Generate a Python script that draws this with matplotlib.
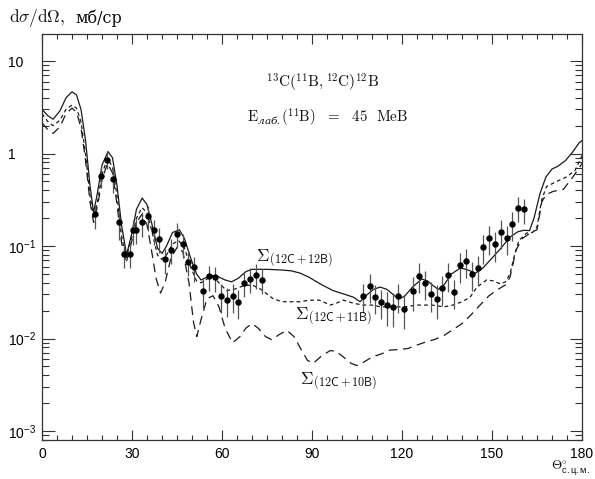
import matplotlib
matplotlib.use("Agg")
import matplotlib.pyplot as plt
import numpy as np
from matplotlib.ticker import FixedLocator, LogLocator, NullFormatter, FuncFormatter, MultipleLocator

plt.rcParams['mathtext.fontset'] = 'custom'
plt.rcParams['mathtext.rm'] = 'cmr10'
plt.rcParams['mathtext.it'] = 'DejaVu Serif:italic'
plt.rcParams['mathtext.bf'] = 'DejaVu Serif:bold'
plt.rcParams['mathtext.sf'] = 'Liberation Sans'
plt.rcParams['mathtext.fallback'] = 'cm'

# ---- Data ----
theta_12b = [0, 2, 3.7, 6, 8, 10, 11.5, 13, 14.5, 16, 17.2, 18.5, 20, 22, 23.5, 25, 26.5, 28.2,
             30, 31.5, 33.4, 35, 36.5, 38.5, 40, 41.5, 43.5, 45.8, 47.5, 49.5, 51.5, 53, 55,
             56.6, 58.5, 61, 63.2, 65.5, 68, 70, 75, 80, 83, 86, 89, 92.7, 97, 101, 103.8, 106,
             108.5, 110.5, 112.7, 115, 117.5, 119.3, 121, 123.5, 126.6, 128.5, 130.5, 132.1, 134,
             136.5, 139.5, 142, 144.5, 147, 150, 153, 156, 158.5, 160.5, 162.5, 164, 166, 168,
             170, 172, 174.5, 177, 179, 180]
sigma_12b = [3.0, 2.55, 2.35, 2.9, 4.0, 4.65, 4.3, 3.0, 1.4, 0.45, 0.23, 0.38, 0.75, 1.05, 0.9,
             0.45, 0.17, 0.08, 0.14, 0.25, 0.33, 0.28, 0.18, 0.095, 0.083, 0.1, 0.14, 0.15, 0.12,
             0.075, 0.05, 0.043, 0.046, 0.048, 0.047, 0.043, 0.041, 0.045, 0.053, 0.056, 0.056,
             0.055, 0.054, 0.051, 0.046, 0.039, 0.033, 0.030, 0.028, 0.025, 0.030, 0.034, 0.036,
             0.034, 0.029, 0.027, 0.029, 0.036, 0.044, 0.042, 0.037, 0.034, 0.038, 0.050, 0.058,
             0.055, 0.051, 0.058, 0.074, 0.095, 0.125, 0.142, 0.148, 0.147, 0.2, 0.37, 0.56, 0.68,
             0.73, 0.84, 1.05, 1.3, 1.38]

theta_11b = [0, 2, 3.7, 6, 8, 10, 11.5, 13, 14.5, 16, 17.2, 18.5, 20, 21.8, 23.5, 25, 26.5, 28,
             29.5, 31.5, 33.3, 35, 36.5, 38.5, 39.8, 41.5, 43.5, 45.5, 47.5, 49.5, 51.5, 53, 55,
             57, 59, 61.5, 64, 67, 70, 73, 77, 80, 83, 86, 89, 92.5, 96, 98, 100.4, 104, 107, 110,
             113, 117, 121, 125, 130, 134, 137, 140, 142.7, 145, 148.2, 150.5, 152.7, 154.5, 156,
             157.5, 159, 161.5, 163.5, 165, 166.6, 168.2, 171.6, 174.9, 177.7, 180]
sigma_11b = [2.7, 2.2, 2.0, 2.3, 3.0, 3.35, 3.1, 2.2, 1.0, 0.35, 0.2, 0.3, 0.6, 0.88, 0.72, 0.35,
             0.13, 0.075, 0.11, 0.2, 0.26, 0.23, 0.15, 0.08, 0.072, 0.08, 0.105, 0.115, 0.095,
             0.06, 0.042, 0.04, 0.044, 0.047, 0.04, 0.033, 0.034, 0.037, 0.038, 0.034, 0.027,
             0.025, 0.025, 0.025, 0.026, 0.026, 0.023, 0.024, 0.026, 0.024, 0.023, 0.023, 0.022,
             0.022, 0.022, 0.023, 0.023, 0.022, 0.023, 0.025, 0.028, 0.036, 0.043, 0.042, 0.039,
             0.041, 0.05, 0.08, 0.115, 0.138, 0.14, 0.16, 0.32, 0.44, 0.5, 0.56, 0.66, 0.95]

theta_10b = [0, 2, 3.7, 6, 8, 10, 11.5, 13, 14.5, 16, 17.2, 18.5, 20, 21.8, 23.5, 25, 26.5, 28,
             29.5, 31.5, 33.3, 35, 36.5, 38, 39.5, 41, 43, 45.3, 47, 49, 50.5, 51.6, 53, 55, 57,
             59, 61, 63.5, 66, 68, 70, 72, 74.5, 76.6, 79, 81.6, 84, 86.5, 88.5, 90.4, 93, 96,
             98, 100.5, 103, 105, 107, 110, 113, 116, 119, 122, 125, 128, 131, 134, 137, 140,
             143, 146, 149, 152, 154.5, 156, 158, 160, 163, 165, 166.6, 168, 170.4, 173.8, 177,
             180]
sigma_10b = [2.15, 1.8, 1.65, 1.95, 2.7, 3.1, 2.8, 1.9, 0.85, 0.3, 0.18, 0.27, 0.52, 0.78, 0.62,
             0.28, 0.11, 0.065, 0.1, 0.18, 0.22, 0.17, 0.09, 0.045, 0.031, 0.04, 0.075, 0.1,
             0.085, 0.04, 0.015, 0.0105, 0.016, 0.027, 0.029, 0.022, 0.013, 0.009, 0.0105, 0.013,
             0.0145, 0.013, 0.0105, 0.0097, 0.011, 0.0123, 0.0105, 0.0075, 0.0058, 0.0054, 0.0064,
             0.0074, 0.0073, 0.0063, 0.0054, 0.0051, 0.0055, 0.0063, 0.0068, 0.0075, 0.0076,
             0.0078, 0.0085, 0.0092, 0.0098, 0.0108, 0.0125, 0.0145, 0.018, 0.023, 0.029, 0.034,
             0.038, 0.046, 0.09, 0.12, 0.14, 0.15, 0.3, 0.36, 0.39, 0.41, 0.56, 0.78]

theta_exp = [17.7, 19.6, 21.6, 23.6, 25.6, 27.4, 29.3, 30.3, 31.3, 33.4, 35.4, 37.3, 39.1, 41.1,
             43.0, 45.1, 46.9, 48.8, 50.8, 53.8, 55.8, 57.7, 59.7, 61.6, 63.6, 65.4, 67.4, 69.3,
             71.3, 73.2, 107.1, 109.3, 111.0, 113.0, 114.9, 116.9, 118.8, 120.8, 123.6, 125.6,
             127.7, 129.6, 131.6, 133.4, 135.4, 137.4, 139.3, 141.3, 143.2, 145.2, 147.1, 149.1,
             151.0, 152.9, 154.9, 156.8, 158.8, 160.7]
sigma_exp = [0.22, 0.57, 0.86, 0.53, 0.18, 0.083, 0.082, 0.148, 0.15, 0.18, 0.21, 0.148, 0.12,
             0.072, 0.091, 0.135, 0.105, 0.068, 0.059, 0.033, 0.047, 0.046, 0.029, 0.026, 0.029,
             0.025, 0.040, 0.044, 0.049, 0.043, 0.029, 0.037, 0.028, 0.025, 0.023, 0.022, 0.029,
             0.021, 0.033, 0.048, 0.040, 0.030, 0.027, 0.035, 0.049, 0.032, 0.062, 0.069, 0.050,
             0.058, 0.098, 0.123, 0.104, 0.143, 0.123, 0.173, 0.26, 0.25]
rel_err = [0.3, 0.25, 0.2, 0.3, 0.35, 0.3, 0.3, 0.3, 0.3, 0.3, 0.3, 0.3, 0.3, 0.3, 0.3, 0.3, 0.3,
           0.3, 0.3, 0.35, 0.3, 0.3, 0.35, 0.35, 0.35, 0.35, 0.3, 0.3, 0.3, 0.3, 0.35, 0.35,
           0.35, 0.35, 0.4, 0.4, 0.35, 0.4, 0.4, 0.35, 0.35, 0.35, 0.4, 0.35, 0.35, 0.35, 0.35,
           0.35, 0.35, 0.35, 0.35, 0.35, 0.35, 0.35, 0.35, 0.35, 0.3, 0.3]

x_major = [0, 30, 60, 90, 120, 150, 180]
y_major = [1e-3, 1e-2, 1e-1, 1, 10]

# ---- Figure ----
W, H = 595, 479
fig = plt.figure(figsize=(W / 100, H / 100), dpi=100)
ax = fig.add_axes([42 / W, 39 / H, 540 / W, 406 / H])

lc = '#1a1a1a'
ax.plot(theta_12b, sigma_12b, '-', color=lc, lw=0.9)
ax.plot(theta_11b, sigma_11b, color=lc, lw=0.9, dashes=(3, 2.5))
ax.plot(theta_10b, sigma_10b, color=lc, lw=0.9, dashes=(7, 4.5))

yexp = np.array(sigma_exp)
yerr = yexp * np.array(rel_err)
ax.errorbar(theta_exp, sigma_exp, yerr=yerr, fmt='o', ms=3.6, color='black',
            ecolor='#555555', elinewidth=0.9, capsize=0)

ax.set_yscale('log')
ax.set_xlim(0, 180)
ax.set_ylim(8e-4, 19.6)

ax.xaxis.set_major_locator(FixedLocator(x_major))
ax.xaxis.set_minor_locator(MultipleLocator(5))
ax.yaxis.set_major_locator(FixedLocator(y_major))
ax.yaxis.set_minor_locator(LogLocator(base=10, subs=np.arange(2, 10), numticks=20))
ax.yaxis.set_minor_formatter(NullFormatter())


def yfmt(v, pos):
    e = int(round(np.log10(v)))
    if e >= 0:
        return str(int(round(v)))
    return r'$\mathsf{10}^{\mathsf{%d}}$' % e


ax.yaxis.set_major_formatter(FuncFormatter(yfmt))

ax.tick_params(which='both', direction='in', top=True, right=True, color='#333333', width=0.8)
ax.tick_params(axis='x', which='major', length=7, pad=5, labelsize=10)
ax.tick_params(axis='x', which='minor', length=3.5)
ax.tick_params(axis='y', which='major', length=9, pad=24.5, labelsize=10)
ax.tick_params(axis='y', which='minor', length=5)
for lab in ax.get_yticklabels():
    lab.set_horizontalalignment('left')
for lab in ax.get_xticklabels() + ax.get_yticklabels():
    lab.set_fontfamily('Liberation Sans')
for s in ax.spines.values():
    s.set_linewidth(0.9)
    s.set_color('#333333')


def px(x, y):
    return x / W, 1 - y / H


tc = '#111111'
# y-axis title
fig.text(*px(9, 18), r'$\mathrm{d}\sigma/\mathrm{d}\Omega,$', fontsize=12.5, math_fontfamily='cm',
         va='center', ha='left', color=tc)
fig.text(*px(75, 18), 'мб/ср', fontsize=11.5, family='DejaVu Serif', va='center', ha='left',
         color=tc)
# reaction
fig.text(*px(266, 83), r'$^{13}\mathrm{C}(^{11}\mathrm{B,}^{12}\mathrm{C})^{12}\mathrm{B}$',
         fontsize=11, math_fontfamily='cm', va='center', ha='left', color=tc)
fig.text(*px(247, 117),
         r'$\mathrm{E}_{\mathit{лаб.}}(^{11}\mathrm{B})\ \ =\ \ 45\ \ \mathrm{MeB}$',
         fontsize=10.8, va='center', ha='left', color=tc)
# curve labels
for (lx, ly, lab) in [(256, 259, '(12C+12B)'), (295, 317, '(12C+11B)'), (300, 382, '(12C+10B)')]:
    fig.text(*px(lx, ly), r'$\Sigma_{\mathsf{%s}}$' % lab, fontsize=12.5, math_fontfamily='cm',
             va='center', ha='left', color=tc)
# x-axis title
fig.text(*px(551, 478.5), r'$\Theta^{\circ}_{\mathsf{с.ц.м.}}$', fontsize=9.5, va='bottom',
         ha='left', color=tc)

fig.savefig('out.png', dpi=100)
